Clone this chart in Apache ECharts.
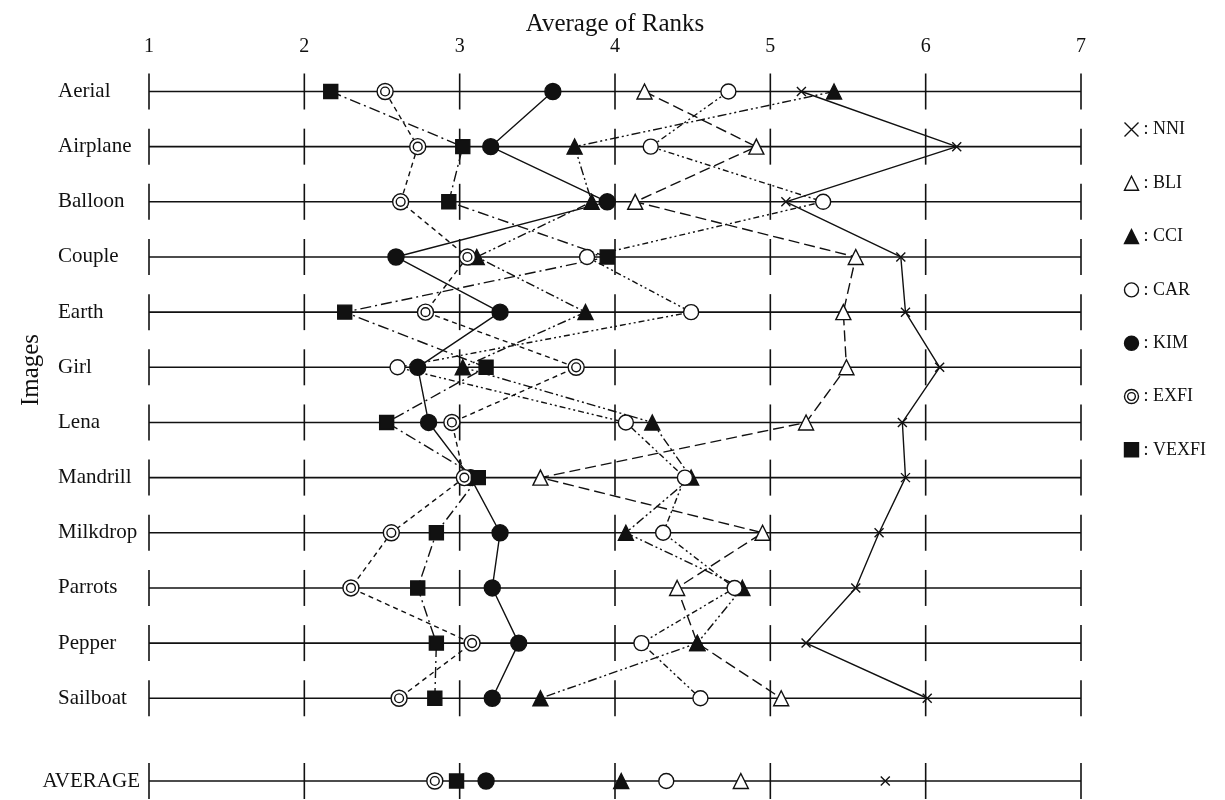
<!DOCTYPE html>
<html>
<head>
<meta charset="utf-8">
<script src="https://cdn.jsdelivr.net/npm/echarts@6/dist/echarts.min.js"></script>
<style>
  html, body { margin: 0; padding: 0; background: #fff; }
  #chart { width: 1225px; height: 800px; }
</style>
</head>
<body>
<div id="chart"></div>
<script>
// Test images (rows, top to bottom) and the summary row
const images = ['Aerial', 'Airplane', 'Balloon', 'Couple', 'Earth', 'Girl', 'Lena',
                'Mandrill', 'Milkdrop', 'Parrots', 'Pepper', 'Sailboat'];
const averageLabel = 'AVERAGE';
const averageRow = 12.5;           // summary row sits a little below the last image
const rankTicks = [1, 2, 3, 4, 5, 6, 7];

// Average rank of each interpolation method, one value per image
const NNI   = [5.20, 6.20, 5.10, 5.84, 5.87, 6.09, 5.85, 5.87, 5.70, 5.55, 5.23, 6.01];
const BLI   = [4.19, 4.91, 4.13, 5.55, 5.47, 5.49, 5.23, 3.52, 4.95, 4.40, 4.53, 5.07];
const CCI   = [5.41, 3.74, 3.85, 3.11, 3.81, 3.02, 4.24, 4.49, 4.07, 4.82, 4.53, 3.52];
const CAR   = [4.73, 4.23, 5.34, 3.82, 4.49, 2.60, 4.07, 4.45, 4.31, 4.77, 4.17, 4.55];
const KIM   = [3.60, 3.20, 3.95, 2.59, 3.26, 2.73, 2.80, 3.07, 3.26, 3.21, 3.38, 3.21];
const EXFI  = [2.52, 2.73, 2.62, 3.05, 2.78, 3.75, 2.95, 3.03, 2.56, 2.30, 3.08, 2.61];
const VEXFI = [2.17, 3.02, 2.93, 3.95, 2.26, 3.17, 2.53, 3.12, 2.85, 2.73, 2.85, 2.84];

// Average over all images
const averages = { NNI: 5.74, BLI: 4.81, CCI: 4.04, CAR: 4.33, KIM: 3.17, EXFI: 2.84, VEXFI: 2.98 };

const methods = ['NNI', 'BLI', 'CCI', 'CAR', 'KIM', 'EXFI', 'VEXFI'];
const values = { NNI, BLI, CCI, CAR, KIM, EXFI, VEXFI };

const INK = '#111';
const SERIF = '"Liberation Serif", "Times New Roman", serif';

// marker + line look for each method
const CROSS = 'path://M0,0L10,10M10,0L0,10';
const DOUBLE_RING = 'path://M10,0A10,10,0,1,1,9.99,0ZM10,4.5A5.5,5.5,0,1,1,9.99,4.5Z';
const looks = {
  NNI:   { symbol: CROSS,       size: 9,  fill: 'none', dash: 'solid' },
  BLI:   { symbol: 'triangle',  size: 15, fill: '#fff', dash: [11, 5] },
  CCI:   { symbol: 'triangle',  size: 15, fill: INK,    dash: [9, 3, 2, 3, 2, 3] },
  CAR:   { symbol: 'circle',    size: 15, fill: '#fff', dash: [6, 3, 2, 3, 2, 3] },
  KIM:   { symbol: 'circle',    size: 16, fill: INK,    dash: 'solid' },
  EXFI:  { symbol: DOUBLE_RING, size: 16, fill: '#fff', dash: [5, 4] },
  VEXFI: { symbol: 'rect',      size: 14, fill: INK,    dash: [11, 4, 2, 4] }
};

const rowPositions = images.map((_, i) => i).concat([averageRow]);

function seriesFor(name) {
  const lk = looks[name];
  const pts = values[name].map((v, i) => [v, i]);
  pts.push('-');                                  // break: summary point stands alone
  pts.push([averages[name], averageRow]);
  return {
    name,
    type: 'line',
    data: pts,
    z: 5,
    symbol: lk.symbol,
    symbolSize: lk.size,
    showAllSymbol: true,
    connectNulls: false,
    lineStyle: { color: INK, width: 1.4, type: lk.dash },
    itemStyle: { color: lk.fill, borderColor: INK, borderWidth: 1.4 },
    emphasis: { disabled: true },
    animation: false
  };
}

const chart = echarts.init(document.getElementById('chart'), null, { renderer: 'canvas' });

chart.setOption({
  backgroundColor: '#fff',
  animation: false,
  textStyle: { fontFamily: SERIF, color: INK },
  grid: { left: 149, right: 144, top: 91.5, bottom: 19, containLabel: false, outerBoundsMode: 'none' },
  xAxis: {
    type: 'value',
    position: 'top',
    min: 1, max: 7, interval: 1,
    name: 'Average of Ranks',
    nameLocation: 'middle',
    nameGap: 55,
    nameMoveOverlap: false,
    nameTextStyle: { fontFamily: SERIF, fontSize: 25, color: INK },
    axisLine: { show: false },
    axisTick: { show: false },
    splitLine: { show: false },
    axisLabel: { margin: 35, fontFamily: SERIF, fontSize: 20, color: INK }
  },
  yAxis: [
    {
      type: 'value', inverse: true, min: 0, max: averageRow, interval: 0.5,
      axisLine: { show: false }, axisTick: { show: false }, splitLine: { show: false },
      axisLabel: {
        align: 'left', margin: 91, fontFamily: SERIF, fontSize: 21, color: INK,
        formatter: v => (Number.isInteger(v) && v < images.length) ? images[v] : ''
      }
    },
    {
      type: 'value', inverse: true, min: 0, max: averageRow, interval: 0.5,
      position: 'left',
      axisLine: { show: false }, axisTick: { show: false }, splitLine: { show: false },
      axisLabel: {
        align: 'right', margin: 9, fontFamily: SERIF, fontSize: 21, color: INK,
        formatter: v => v === averageRow ? averageLabel : ''
      }
    }
  ],
  legend: {
    orient: 'vertical',
    left: 1117, top: 115,
    itemWidth: 14, itemHeight: 14,
    itemGap: 35.3,
    selectedMode: false,
    textStyle: { fontFamily: SERIF, fontSize: 18, color: INK },
    formatter: n => ': ' + n,
    data: methods.map(m => ({
      name: m,
      icon: looks[m].symbol,
      itemStyle: { color: looks[m].fill, borderColor: INK, borderWidth: 1.4 }
    }))
  },
  graphic: [
    {
      type: 'text', x: 31, y: 370, rotation: Math.PI / 2,
      style: { text: 'Images', font: '25px ' + SERIF, fill: INK, textAlign: 'center', textVerticalAlign: 'middle' }
    }
  ],
  series: [
    {
      // each row: a rank scale line with a tick at every integer rank
      type: 'custom',
      z: 1,
      silent: true,
      data: rowPositions.map(r => [rankTicks[0], r]),
      encode: { x: 0, y: 1 },
      renderItem(params, api) {
        const r = api.value(1);
        const a = api.coord([rankTicks[0], r]);
        const b = api.coord([rankTicks[rankTicks.length - 1], r]);
        const st = { stroke: INK, lineWidth: 1.6 };
        const children = [{ type: 'line', shape: { x1: a[0], y1: a[1], x2: b[0], y2: b[1] }, style: st }];
        rankTicks.forEach(t => {
          const p = api.coord([t, r]);
          children.push({ type: 'line', shape: { x1: p[0], y1: p[1] - 18, x2: p[0], y2: p[1] + 18 }, style: st });
        });
        return { type: 'group', children };
      }
    }
  ].concat(methods.map(seriesFor))
});
</script>
</body>
</html>
